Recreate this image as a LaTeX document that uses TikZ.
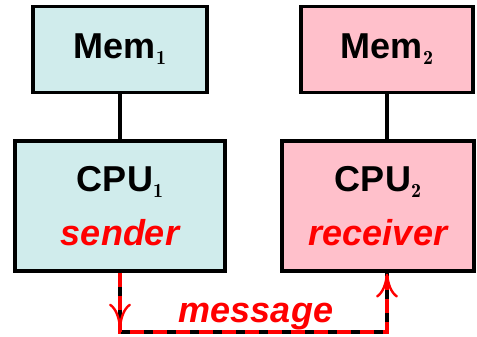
\documentclass[tikz,border=0pt]{standalone}
\usepackage[no-math]{fontspec}
\setmainfont{Liberation Sans}
\usetikzlibrary{arrows.meta,decorations.markings}
\definecolor{cpucyan}{RGB}{208,236,236}
\definecolor{cpupink}{RGB}{255,192,203}
\definecolor{msgred}{RGB}{255,0,0}
\newcommand{\mysub}[1]{\raisebox{-6pt}{\fontsize{20}{20}\usefont{TU}{lmr}{b}{n}#1}}
\begin{document}
\begin{tikzpicture}[x=1pt,y=-1pt,
  box/.style={draw=black, line width=3.2pt, inner sep=0pt, align=center,
    font=\fontsize{36}{55}\selectfont\bfseries},
  wire/.style={draw=black, line width=3.2pt},
  role/.style={text=msgred, font=\fontsize{36}{55}\selectfont\bfseries\itshape},
  tipstyle/.style={msgred, line width=2.4pt}
]
\useasboundingbox (0,0) rectangle (477,337);
\node[box, fill=cpucyan, minimum width=174pt, minimum height=86pt] (mem1) at (120,49.5) {Mem\mysub{1}};
\node[box, fill=cpupink, minimum width=172pt, minimum height=86pt] (mem2) at (387,49.5) {Mem\mysub{2}};
\node[box, fill=cpucyan, minimum width=210pt, minimum height=130pt] (cpu1) at (120,206) {CPU\mysub{1}\\[-1pt]\textcolor{msgred}{\itshape sender}};
\node[box, fill=cpupink, minimum width=192pt, minimum height=130pt] (cpu2) at (378,206) {CPU\mysub{2}\\[-1pt]\textcolor{msgred}{\itshape receiver}};
\draw[wire] (mem1) -- (cpu1);
\draw[wire] (mem2.south) -- (mem2.south |- cpu2.north);
\coordinate (bl) at (120,332);
\coordinate (recv) at (mem2.south |- cpu2.south);
\node[role, anchor=base] (msg) at (256,322) {message};
\draw[wire] (cpu1.south) -- (bl) -| (recv);
\draw[draw=msgred, line width=3.2pt, dash pattern=on 14pt off 9pt,
  postaction={decorate, decoration={markings,
    mark=at position 55pt with {\arrow[tipstyle]{Computer Modern Rightarrow[length=24pt,width=22pt]}},
    mark=at position -1pt with {\arrow[tipstyle]{Computer Modern Rightarrow[length=24pt,width=22pt]}}}}]
  (cpu1.south) -- (bl) -| (recv);
\end{tikzpicture}
\end{document}
